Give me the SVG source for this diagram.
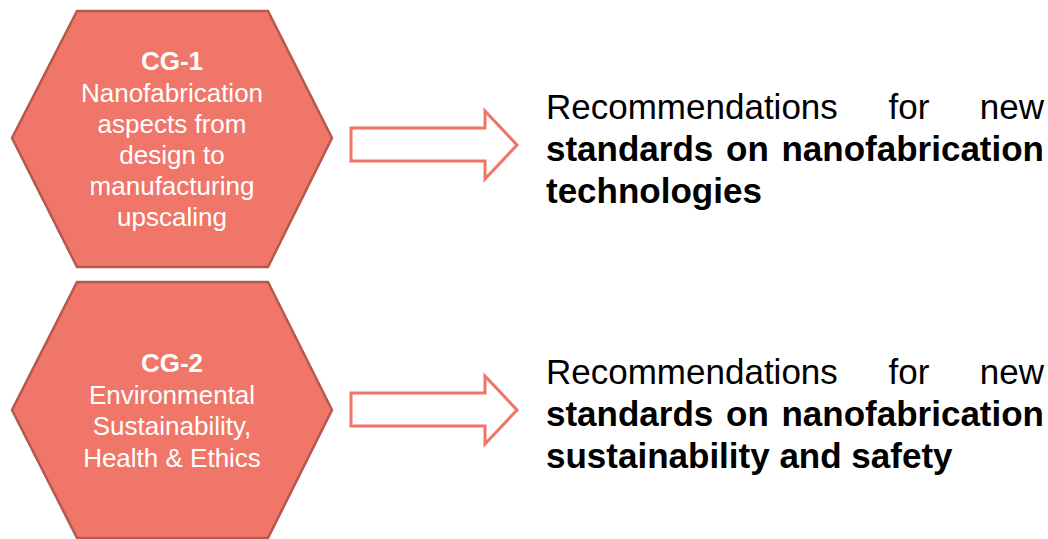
<svg xmlns="http://www.w3.org/2000/svg" width="1048" height="539" viewBox="0 0 1048 539">
<style>
.hex{fill:#EF7669;stroke:#B5584E;stroke-width:2.5}
.ht{font-family:"Liberation Sans",Arial,sans-serif;font-size:26px;fill:#FFFFFF;text-anchor:middle}
.hb{font-weight:bold}
.arr{fill:#FFFFFF;stroke:#F07467;stroke-width:3;stroke-linejoin:miter}
.rt{font-family:"Liberation Sans",Arial,sans-serif;font-size:35px;fill:#000000}
.rb{font-weight:bold}
.js{word-spacing:3px}
</style>
<rect width="1048" height="539" fill="#FFFFFF"/>
<g id="cg1">
<polygon class="hex" points="77,11 268,11 332,138 268,267 77,267 12,138"/>
<text class="ht hb" x="172" y="70">CG-1</text>
<text class="ht" x="172" y="101.5">Nanofabrication</text>
<text class="ht" x="172" y="132.5">aspects from</text>
<text class="ht" x="172" y="163.5">design to</text>
<text class="ht" x="172" y="194.5">manufacturing</text>
<text class="ht" x="172" y="225.5">upscaling</text>
</g>
<g id="cg2">
<polygon class="hex" points="77,282 268,282 332,410 268,538 77,538 12,410"/>
<text class="ht hb" x="172" y="372">CG-2</text>
<text class="ht" x="172" y="403.5">Environmental</text>
<text class="ht" x="172" y="435">Sustainability,</text>
<text class="ht" x="172" y="466.5">Health &amp; Ethics</text>
</g>
<g id="connectors">
<polygon class="arr" points="351,128 485,128 485,111 517,145 485,179 485,161 351,161"/>
<polygon class="arr" points="351,393 485,393 485,376 517,410 485,444 485,426 351,426"/>
</g>
<g id="rec1">
<text class="rt" x="546" y="119">Recommendations</text>
<text class="rt" x="909" y="119" text-anchor="middle">for</text>
<text class="rt" x="1044" y="119" text-anchor="end">new</text>
<text class="rt rb js" x="546" y="161">standards on nanofabrication</text>
<text class="rt rb" x="546" y="203">technologies</text>
</g>
<g id="rec2">
<text class="rt" x="546" y="384">Recommendations</text>
<text class="rt" x="909" y="384" text-anchor="middle">for</text>
<text class="rt" x="1044" y="384" text-anchor="end">new</text>
<text class="rt rb js" x="546" y="426">standards on nanofabrication</text>
<text class="rt rb" x="546" y="468">sustainability and safety</text>
</g>
</svg>
